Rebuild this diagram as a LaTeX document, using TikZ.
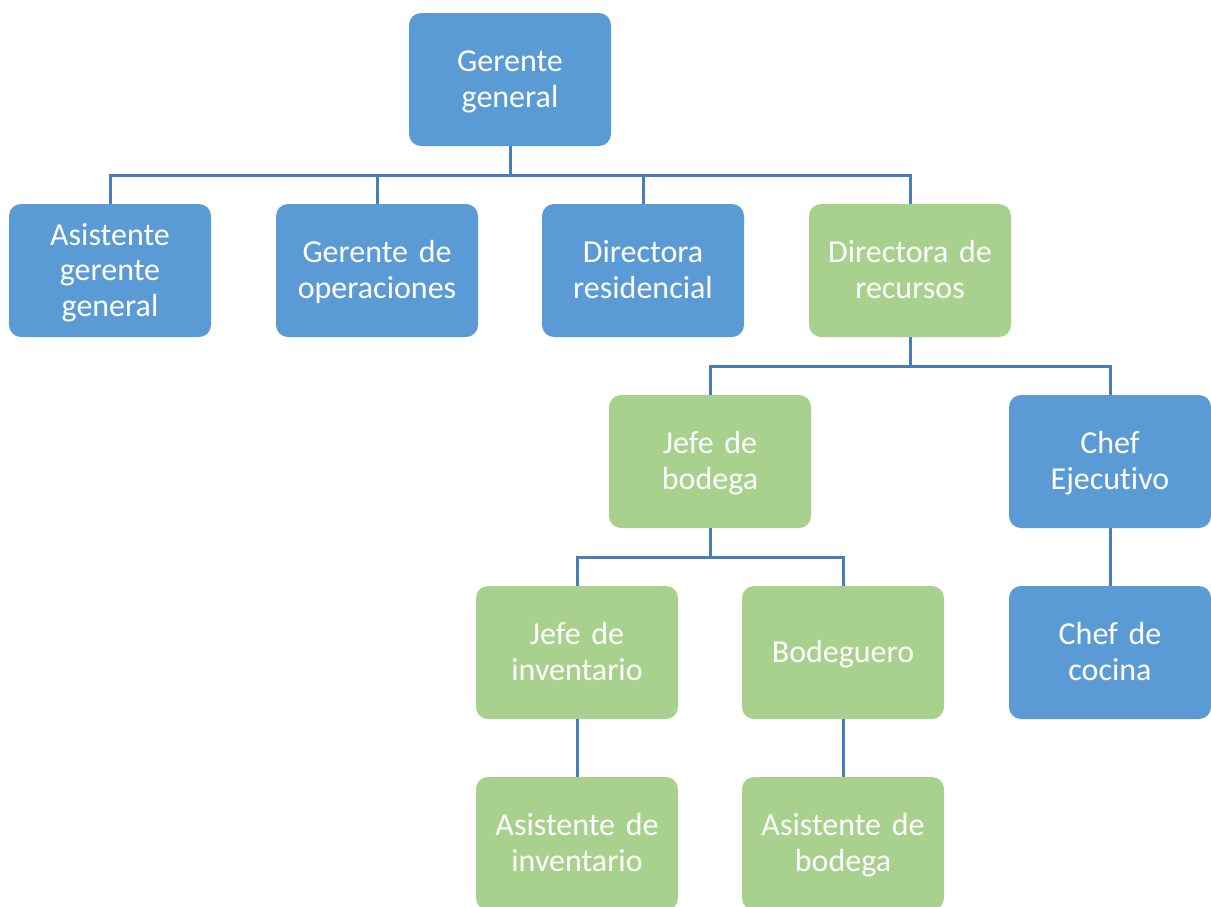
\documentclass[tikz,border=0pt]{standalone}
\usepackage{fontspec}
\setmainfont{Carlito}[Ligatures={NoCommon},WordSpace=0.85]
\definecolor{bbox}{HTML}{5B9BD5}
\definecolor{gbox}{HTML}{A9D18E}
\definecolor{conn}{HTML}{4A7EBB}
\begin{document}
\begin{tikzpicture}[x=1pt,y=-1pt,
  box/.style={rounded corners=12pt,minimum width=202pt,minimum height=133pt,inner sep=0pt,
    label={[text=white,align=center,font=\fontsize{32}{35.5}\selectfont,text width=196pt,inner sep=0pt,yshift=-3pt]center:\strut #1\strut}},
  bluebox/.style={box={#1},fill=bbox},
  greenbox/.style={box={#1},fill=gbox},
  link/.style={draw=conn,line width=3pt}]
\useasboundingbox (0,0) rectangle (1211,906);
\begin{scope}
\clip (0,0) rectangle (1211,906);
\node[bluebox={Gerente\\general}] (gg) at (510,79.5) {};
\node[bluebox={Asistente\\gerente\\general}] (agg) at (110,270.5) {};
\node[bluebox={Gerente de\\operaciones}] (go) at (377,270.5) {};
\node[bluebox={Directora\\residencial}] (dres) at (643,270.5) {};
\node[greenbox={Directora de\\recursos}] (drec) at (910,270.5) {};
\node[greenbox={Jefe de\\bodega}] (jb) at (710,461.5) {};
\node[bluebox={Chef\\Ejecutivo}] (ce) at (1110,461.5) {};
\node[greenbox={Jefe de\\inventario}] (ji) at (577,652.5) {};
\node[greenbox={Bodeguero}] (bod) at (843,652.5) {};
\node[bluebox={Chef de\\cocina}] (cc) at (1110,652.5) {};
\node[greenbox={Asistente de\\inventario}] (ai) at (577,843.5) {};
\node[greenbox={Asistente de\\bodega}] (ab) at (843,843.5) {};
\end{scope}
\coordinate (b1) at (510,175);
\coordinate (b2) at (910,366);
\coordinate (b3) at (710,557);
\draw[link] (gg.south) -- (b1);
\draw[link] (agg.north) |- (b1) -| (drec.north);
\draw[link] (go.north) -- (go.north |- b1);
\draw[link] (dres.north) -- (dres.north |- b1);
\draw[link] (drec.south) -- (b2);
\draw[link] (jb.north) |- (b2) -| (ce.north);
\draw[link] (jb.south) -- (b3);
\draw[link] (ji.north) |- (b3) -| (bod.north);
\draw[link] (ce.south) -- (cc.north);
\draw[link] (ji.south) -- (ai.north);
\draw[link] (bod.south) -- (ab.north);
\end{tikzpicture}
\end{document}
